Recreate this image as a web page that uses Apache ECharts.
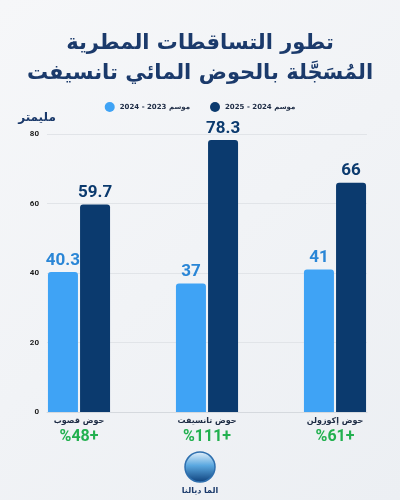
<!DOCTYPE html>
<html>
<head>
<meta charset="utf-8">
<script src="https://cdn.jsdelivr.net/npm/echarts@6/dist/echarts.min.js"></script>
<style>
  html, body { margin: 0; padding: 0; }
  #chart { width: 400px; height: 500px; }
</style>
</head>
<body>
<div id="chart"></div>
<script>
// الأحواض
var categories = ['حوض قصوب', 'حوض تانسيفت', 'حوض إكوزولن'];
// مليمتر
var season2324 = [40.3, 37, 41];
var season2425 = [59.7, 78.3, 66];
var changes = ['%48+', '%111+', '%61+'];
var seriesNames = ['موسم 2023 - 2024', 'موسم 2024 - 2025'];

// spacer slots between the basins so the groups sit like the original
var axisData = [], dataA = [], dataB = [], changeOf = {};
categories.forEach(function (c, i) {
    if (i > 0) { axisData.push(' ' + i); dataA.push(null); dataB.push(null); }
    axisData.push(c);
    dataA.push(season2324[i]);
    dataB.push(season2425[i]);
    changeOf[c] = changes[i];
});

var arabicFont = 'DejaVu Sans';
var navy = '#1b3a6b';

var chart = echarts.init(document.getElementById('chart'));
chart.setOption({
    backgroundColor: {
        type: 'linear', x: 0, y: 0, x2: 1, y2: 1,
        colorStops: [{offset: 0, color: '#f6f7f9'}, {offset: 1, color: '#eceff3'}]
    },
    color: ['#3fa3f5', '#0b3a6e'],
    title: {
        text: 'تطور التساقطات المطرية\nالمُسَجَّلة بالحوض المائي تانسيفت',
        left: 'center',
        top: 24,
        textStyle: {
            fontFamily: arabicFont, fontSize: 21, fontWeight: 'bold',
            color: navy, lineHeight: 30
        }
    },
    legend: {
        top: 97,
        left: 'center',
        icon: 'circle',
        itemWidth: 10,
        itemHeight: 10,
        itemGap: 20,
        data: seriesNames,
        textStyle: {fontFamily: arabicFont, fontSize: 7, fontWeight: 'bold', color: '#1d2b44'}
    },
    grid: {left: 47, right: 33, top: 134, bottom: 88},
    xAxis: {
        type: 'category',
        data: axisData,
        axisTick: {show: false},
        axisLine: {lineStyle: {color: '#d5d9de'}},
        axisLabel: {
            interval: 0,
            margin: 2,
            formatter: function (v) {
                if (!changeOf[v]) return '';
                return '{n|' + v + '}\n{p|' + changeOf[v] + '}';
            },
            rich: {
                n: {fontFamily: arabicFont, fontSize: 8, fontWeight: 'bold', color: '#1d2b44', lineHeight: 13},
                p: {fontFamily: 'Roboto', fontSize: 16, fontWeight: 'bold', color: '#22b04f', lineHeight: 20}
            }
        }
    },
    yAxis: {
        type: 'value',
        min: 0,
        max: 80,
        interval: 20,
        name: 'مليمتر',
        nameGap: 10,
        nameTextStyle: {
            fontFamily: arabicFont, fontSize: 12, fontWeight: 'bold', color: navy,
            align: 'center', padding: [0, 20, 0, 0]
        },
        axisLabel: {fontFamily: 'Roboto', fontSize: 8, fontWeight: 'bold', color: '#222', margin: 8},
        splitLine: {lineStyle: {color: '#e1e4e8'}}
    },
    series: [
        {
            name: seriesNames[0],
            type: 'bar',
            data: dataA,
            barWidth: 30,
            barGap: '7%',
            itemStyle: {borderRadius: [3, 3, 0, 0]},
            label: {
                show: true, position: 'top', distance: 3,
                fontFamily: 'Roboto', fontSize: 17, fontWeight: 'bold', color: '#2a86d6'
            }
        },
        {
            name: seriesNames[1],
            type: 'bar',
            data: dataB,
            barWidth: 30,
            itemStyle: {borderRadius: [3, 3, 0, 0]},
            label: {
                show: true, position: 'top', distance: 3,
                fontFamily: 'Roboto', fontSize: 17, fontWeight: 'bold', color: '#0b3a6e'
            }
        }
    ],
    graphic: [
        {
            type: 'circle',
            shape: {cx: 200, cy: 467, r: 15},
            style: {
                fill: {
                    type: 'linear', x: 0, y: 0, x2: 0, y2: 1,
                    colorStops: [{offset: 0, color: '#e9f3fb'}, {offset: 0.45, color: '#5aa8e0'}, {offset: 1, color: '#0d3f7a'}]
                },
                stroke: '#2e6fae', lineWidth: 1.5
            }
        },
        {
            type: 'text',
            x: 200, y: 491,
            style: {
                text: 'الما ديالنا', align: 'center', verticalAlign: 'middle',
                font: 'bold 8px "DejaVu Sans"', fill: navy
            }
        }
    ]
});
</script>
</body>
</html>
